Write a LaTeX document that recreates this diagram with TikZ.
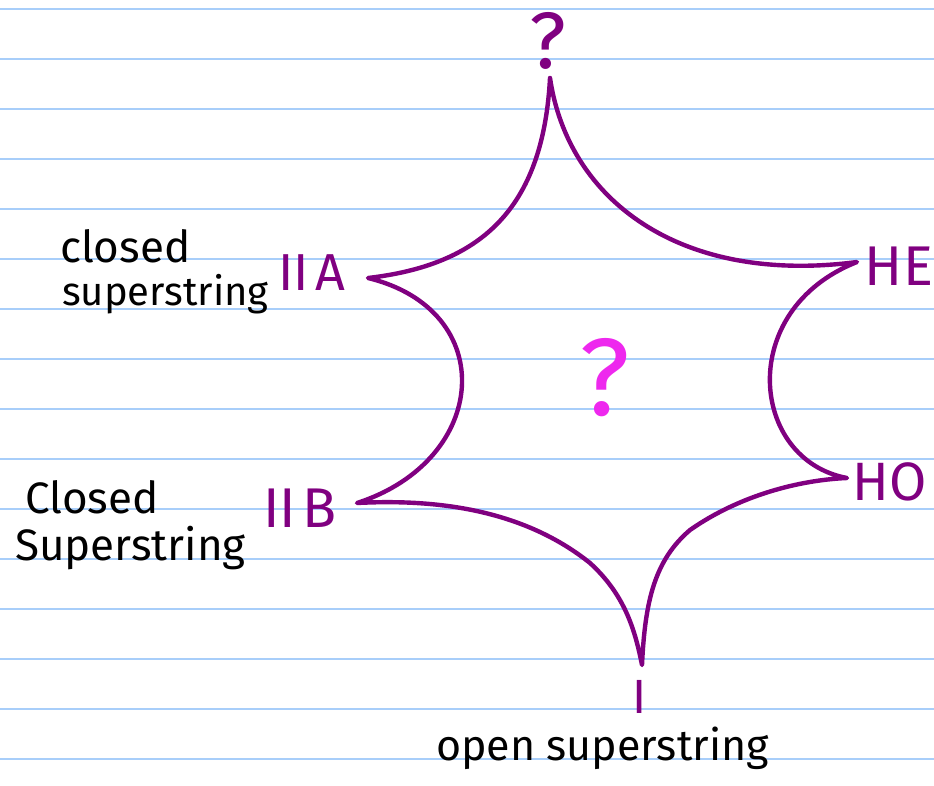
\documentclass[tikz,border=0pt]{standalone}
\usepackage{fontspec}
\setmainfont{Fira Sans}
\definecolor{ruled}{RGB}{168,206,250}
\definecolor{starpurple}{RGB}{128,0,128}
\definecolor{qmagenta}{RGB}{238,40,238}
\tikzset{
  rule/.style={draw=ruled, line width=2pt},
  moduli/.style={draw=starpurple, line width=4.4pt, line join=round, line cap=round},
  vlabel/.style={text=starpurple, inner sep=0pt, anchor=base},
  note/.style={text=black, inner sep=0pt, anchor=base west, font=\fontsize{44}{48}\selectfont},
}
\begin{document}
\begin{tikzpicture}[x=1pt,y=-1pt]
  \useasboundingbox[fill=white] (0,0) rectangle (934,785);
  % ruled notebook lines
  \foreach \k in {0,...,15} {
    \draw[rule] (0,8.5+50*\k) -- (934,8.5+50*\k);
  }
  % cusps of the moduli space
  \coordinate (T)   at (550,78);
  \coordinate (HE)  at (857,262);
  \coordinate (HO)  at (847,478);
  \coordinate (I)   at (642,665);
  \coordinate (IIB) at (357,503);
  \coordinate (IIA) at (368,278);
  \coordinate (bl)  at (590,563);
  \coordinate (br)  at (690,530);
  % the six-cusped star
  \draw[moduli] (T) .. controls (568,200) and (680,285) .. (HE)
                    .. controls (735,310) and (750,460) .. (HO)
                    .. controls (800,480) and (740,495) .. (br)
                    .. controls (655,560) and (645,600) .. (I)
                    .. controls (635,630) and (625,595) .. (bl)
                    .. controls (530,515) and (450,498) .. (IIB)
                    .. controls (490,460) and (500,310) .. (IIA)
                    .. controls (480,265) and (543,210) .. (T);
  % cusp labels
  \node[vlabel, font=\fontsize{80}{84}\selectfont] (lt) at (548,68) {?};
  \node[vlabel, font=\fontsize{52}{56}\selectfont] (liia) at (312,290) {II\kern0.12em A};
  \node[vlabel, font=\fontsize{56}{60}\selectfont] (lhe)  at (899,285) {HE};
  \node[vlabel, font=\fontsize{54}{58}\selectfont] (lho)  at (890,500) {HO};
  \node[vlabel, font=\fontsize{56}{60}\selectfont] (liib) at (300,527) {II\kern0.12em B};
  \node[vlabel, font=\fontsize{48}{52}\selectfont] (li)   at (640,713) {I};
  % unknown interior
  \node[vlabel, text=qmagenta, font=\fontsize{110}{114}\selectfont] (mid) at (605,415) {?};
  % descriptions
  \node[note] (cs1a) at (60,262) {closed};
  \node[note, font=\fontsize{40}{44}\selectfont] (cs1b) at (62,305) {superstring};
  \node[note] (cs2a) at (25,513) {Closed};
  \node[note] (cs2b) at (15,560) {Superstring};
  \node[note, font=\fontsize{43}{46}\selectfont] (os) at (436,760) {open superstring};
\end{tikzpicture}
\end{document}
